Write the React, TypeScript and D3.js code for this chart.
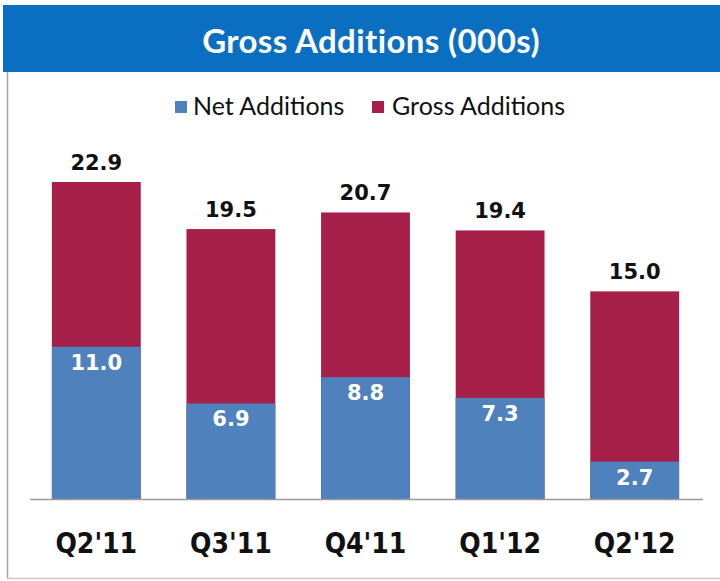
import React from 'react'
import * as d3 from 'd3'

const categories = ["Q2'11", "Q3'11", "Q4'11", "Q1'12", "Q2'12"]
const grossAdditions = [22.9, 19.5, 20.7, 19.4, 15.0]
const netAdditions = [11.0, 6.9, 8.8, 7.3, 2.7]
const legendLabels = ['Net Additions', 'Gross Additions']

const W = 720
const H = 581
const BLUE = '#4F81BD'
const RED = '#A51F48'
const TITLE_BG = '#0B6FC1'

export default function App() {
  const baseline = 499
  const x = d3.scaleBand<string>().domain(categories).range([29, 702]).paddingInner(0.34).paddingOuter(0.17)
  const y = d3.scaleLinear().domain([0, 22.9]).range([baseline, 182])

  return (
    <svg width={W} height={H} style={{ position: 'absolute', left: 0, top: 0 }}>
      <rect x={0} y={0} width={W} height={H} fill="#fff" />
      {/* title bar */}
      <rect x={3} y={5} width={W - 3} height={67} fill={TITLE_BG} />
      <text x={371} y={53} textAnchor="middle" fill="#fff" fontFamily="Lato, 'Open Sans', sans-serif" fontWeight={700} fontSize={33} letterSpacing={0.4}>
        Gross Additions (000s)
      </text>
      {/* panel border */}
      <line x1={7.5} y1={72} x2={7.5} y2={578} stroke="#a6a6a6" strokeWidth={1.5} />
      <line x1={7} y1={578.5} x2={W} y2={578.5} stroke="#c8c8c8" strokeWidth={1.5} />

      {/* legend */}
      <g fontFamily="Lato, 'Open Sans', sans-serif" fontSize={25} fill="#111">
        <rect x={175} y={101} width={12} height={12} fill={BLUE} />
        <text x={193} y={115}>{legendLabels[0]}</text>
        <rect x={372} y={101} width={12} height={12} fill={RED} />
        <text x={392} y={115}>{legendLabels[1]}</text>
      </g>

      {categories.map((c, i) => {
        const bx = x(c)!
        const bw = x.bandwidth()
        const cx = bx + bw / 2
        return (
          <g key={c}>
            <rect x={bx} y={y(grossAdditions[i])} width={bw} height={baseline - y(grossAdditions[i])} fill={RED} />
            <rect x={bx} y={y(netAdditions[i])} width={bw} height={baseline - y(netAdditions[i])} fill={BLUE} />
            <text x={cx} y={y(grossAdditions[i]) - 12} textAnchor="middle" fontFamily="'DejaVu Sans', Verdana, sans-serif" fontWeight={700} fontSize={21} fill="#111">
              {grossAdditions[i].toFixed(1)}
            </text>
            <text x={cx} y={y(netAdditions[i]) + 23} textAnchor="middle" fontFamily="'DejaVu Sans', Verdana, sans-serif" fontWeight={700} fontSize={21} fill="#fff">
              {netAdditions[i].toFixed(1)}
            </text>
            <text x={cx} y={553} textAnchor="middle" fontFamily="'DejaVu Sans Condensed', 'DejaVu Sans', sans-serif" fontStretch="condensed" fontWeight={700} fontSize={28} fill="#111">
              {c}
            </text>
          </g>
        )
      })}
      <line x1={30} y1={baseline + 0.5} x2={703} y2={baseline + 0.5} stroke="#9a9a9a" strokeWidth={1.5} />
    </svg>
  )
}
